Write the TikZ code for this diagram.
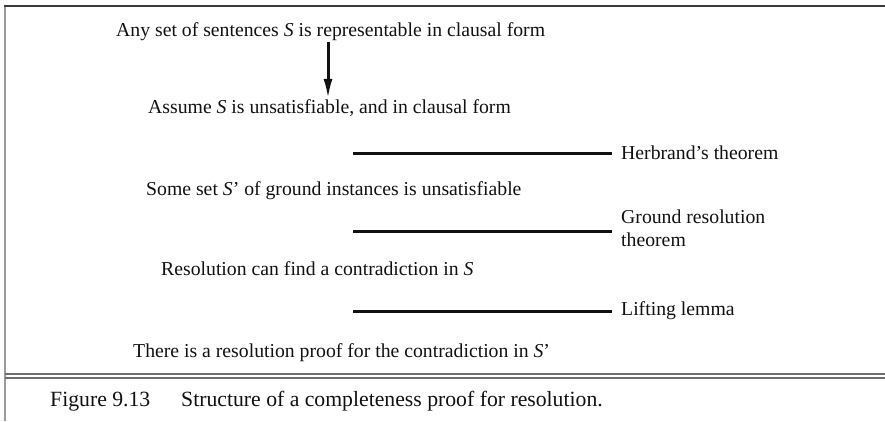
\documentclass[tikz,border=0pt]{standalone}
\usepackage{fontspec}
\setmainfont{Liberation Serif}
\usepackage{xcolor}
\usepackage{tikz}
\usetikzlibrary{arrows.meta,positioning}
\definecolor{ink}{HTML}{111111}
\definecolor{ruledark}{HTML}{3A3A3A}
\definecolor{framegray}{HTML}{9A9A9A}
\definecolor{capgray}{HTML}{6E6E6E}
\tikzset{
  >=Latex,
  every node/.style={text=ink,inner sep=0pt},
  stmt/.style={anchor=base west,font=\fontsize{19.8}{23}\selectfont},
  why/.style={anchor=west,align=left,font=\fontsize{19.8}{23}\selectfont},
  bar/.style={line width=3bp,draw=ink},
  arrow/.style={-{Latex[length=20bp,width=9bp]},line width=3bp,draw=ink},
  topline/.style={line width=2bp,draw=ruledark},
  sideline/.style={line width=2bp,draw=framegray},
  capline/.style={line width=1.4bp,draw=capgray},
  capfont/.style={anchor=base west,font=\fontsize{21.8}{26}\selectfont}
}

\begin{document}
\begin{tikzpicture}[x=1bp,y=-1bp,node distance=9bp]
  \useasboundingbox (0,0) rectangle (885,421);
  % frame
  \draw[sideline] (5,5) -- (5,421);
  \draw[topline] (4,6) -- (885,6);
  \draw[capline] (5,374) -- (885,374);
  \draw[capline] (5,378) -- (885,378);

  % the chain of statements
  \node[stmt] (any) at (116,36) {Any set of sentences \textit{S} is representable in clausal form};
  \node[stmt] (assume) at (148,113) {Assume \textit{S} is unsatisfiable, and in clausal form};
  \node[stmt] (ground) at (146,195) {Some set \textit{S}' of ground instances is unsatisfiable};
  \node[stmt] (resol) at (161,275) {Resolution can find a contradiction in \textit{S}};
  \node[stmt] (proof) at (133,357) {There is a resolution proof for the contradiction in \textit{S}'};

  \coordinate (ax) at (328,0);
  \draw[arrow,shorten <=2bp] (any.south -| ax) -- (assume.north -| ax);

  % inference bars with their justification
  \coordinate (b1w) at (353,153);
  \coordinate (b1e) at (612,153);
  \coordinate (b2w) at (353,231);
  \coordinate (b2e) at (612,231);
  \coordinate (b3w) at (353,311);
  \coordinate (b3e) at (612,311);
  \draw[bar] (b1w) -- (b1e);
  \draw[bar] (b2w) -- (b2e);
  \draw[bar] (b3w) -- (b3e);
  \node[why,right=of b1e] (herb) {Herbrand's theorem};
  \node[why,right=of b2e,yshift=3bp] (grth) {Ground resolution\\theorem};
  \node[why,right=of b3e] (lift) {Lifting lemma};

  % caption
  \node[capfont] (figno) at (50,406) {Figure 9.13};
  \node[capfont] (capt) at (181,406) {Structure of a completeness proof for resolution.};
\end{tikzpicture}
\end{document}
